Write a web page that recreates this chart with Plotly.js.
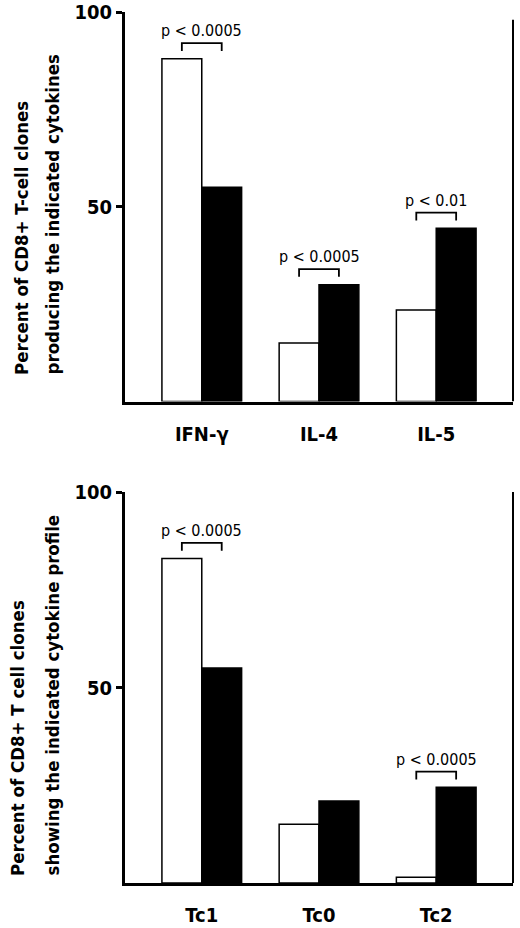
<!DOCTYPE html>
<html>
<head>
<meta charset="utf-8">
<script src="https://cdn.plot.ly/plotly-3.0.1.min.js"></script>
<style>
  html, body { margin: 0; padding: 0; background: #fff; }
  #chart { width: 520px; height: 928px; }
</style>
</head>
<body>
<div id="chart"></div>
<script>
// top panel: cytokine production
var cytokines = ['IFN-γ', 'IL-4', 'IL-5'];
var cytoOpen = [88, 15, 23.5];
var cytoFilled = [55, 30, 44.5];
var cytoP = ['p < 0.0005', 'p < 0.0005', 'p < 0.01'];

// bottom panel: cytokine profile
var profiles = ['Tc1', 'Tc0', 'Tc2'];
var profOpen = [83, 15, 1.5];
var profFilled = [55, 21, 24.5];
var profP = ['p < 0.0005', null, 'p < 0.0005'];

var yTitleTop = ['Percent of CD8+ T-cell clones', 'producing the indicated cytokines'];
var yTitleBottom = ['Percent of CD8+ T cell clones', 'showing the indicated cytokine profile'];

var FONT = '"Liberation Sans Narrow", "Arial Narrow", "DejaVu Sans Condensed", sans-serif';
var pos = [0, 1, 2];
var half = 0.17;   // half of one bar width, in category units

function barTrace(vals, fill, xa, ya) {
  return {
    type: 'bar',
    x: pos,
    y: vals,
    xaxis: xa,
    yaxis: ya,
    marker: { color: fill, line: { color: '#000', width: 1.5 } },
    hoverinfo: 'y',
    showlegend: false,
  };
}

var traces = [
  barTrace(cytoOpen, '#ffffff', 'x', 'y'),
  barTrace(cytoFilled, '#000000', 'x', 'y'),
  barTrace(profOpen, '#ffffff', 'x2', 'y2'),
  barTrace(profFilled, '#000000', 'x2', 'y2'),
];

var shapes = [];
var annotations = [];

// significance brackets sit just above the taller bar of each pair
function addBrackets(openVals, filledVals, pvals, xr, yr) {
  pvals.forEach(function(p, i) {
    if (!p) { return; }
    var top = Math.max(openVals[i], filledVals[i]) + 4;
    shapes.push({
      type: 'path',
      xref: xr, yref: yr,
      path: 'M ' + (i - half) + ' ' + (top - 2) +
            ' L ' + (i - half) + ' ' + top +
            ' L ' + (i + half) + ' ' + top +
            ' L ' + (i + half) + ' ' + (top - 2),
      line: { color: '#000', width: 1.8 },
    });
    annotations.push({
      xref: xr, yref: yr,
      x: i, y: top,
      text: p,
      showarrow: false,
      yanchor: 'bottom',
      yshift: 1,
      font: { family: FONT, size: 16, color: '#000' },
    });
  });
}
addBrackets(cytoOpen, cytoFilled, cytoP, 'x', 'y');
addBrackets(profOpen, profFilled, profP, 'x2', 'y2');

// thin right-hand frame line on each panel
shapes.push({ type: 'line', xref: 'x domain', yref: 'y', x0: 1, x1: 1, y0: 0, y1: 98,
  line: { color: '#000', width: 2 } });
shapes.push({ type: 'line', xref: 'x2 domain', yref: 'y2', x0: 1, x1: 1, y0: 0, y1: 100,
  line: { color: '#000', width: 2 } });

// rotated y titles, one annotation per line so both lines start at the bottom
function addTitle(lines, xs, bottomPx) {
  lines.forEach(function(line, i) {
    annotations.push({
      xref: 'paper', yref: 'paper', x: xs[i] / 520, y: 1 - bottomPx / 928,
      xanchor: 'center', yanchor: 'bottom',
      text: line, textangle: -90, showarrow: false,
      font: { family: FONT, size: 18.5, color: '#000', weight: 'bold' },
    });
  });
}
addTitle(yTitleTop, [21, 52], 377);
addTitle(yTitleBottom, [17, 52], 878);

function xAxis(labels, anchor) {
  return {
    domain: [125 / 520, 513 / 520],
    range: [-0.655, 2.655],
    anchor: anchor,
    tickvals: pos,
    ticktext: labels,
    ticks: '',
    ticklabelstandoff: 12,
    showgrid: false,
    zeroline: false,
    showline: true,
    linecolor: '#000',
    linewidth: 3,
    tickfont: { family: FONT, size: 20, color: '#000', weight: 'bold' },
    fixedrange: true,
  };
}

function yAxis(domain, anchor) {
  return {
    domain: domain,
    range: [0, 100],
    anchor: anchor,
    tickvals: [50, 100],
    ticktext: ['50', '100'],
    ticks: 'outside',
    ticklen: 6,
    tickwidth: 3,
    tickcolor: '#000',
    showgrid: false,
    zeroline: false,
    showline: true,
    linecolor: '#000',
    linewidth: 3,
    tickfont: { family: FONT, size: 20, color: '#000', weight: 'bold' },
    fixedrange: true,
  };
}

var layout = {
  width: 520,
  height: 928,
  margin: { l: 0, r: 0, t: 0, b: 0 },
  paper_bgcolor: '#fff',
  plot_bgcolor: '#fff',
  barmode: 'group',
  bargap: 0.32,
  bargroupgap: 0,
  showlegend: false,
  xaxis: xAxis(cytokines, 'y'),
  yaxis: yAxis([1 - 401.5 / 928, 1 - 12 / 928], 'x'),
  xaxis2: xAxis(profiles, 'y2'),
  yaxis2: yAxis([1 - 883 / 928, 1 - 492 / 928], 'x2'),
  shapes: shapes,
  annotations: annotations,
};

Plotly.newPlot('chart', traces, layout, { displayModeBar: false, staticPlot: true });
</script>
</body>
</html>
